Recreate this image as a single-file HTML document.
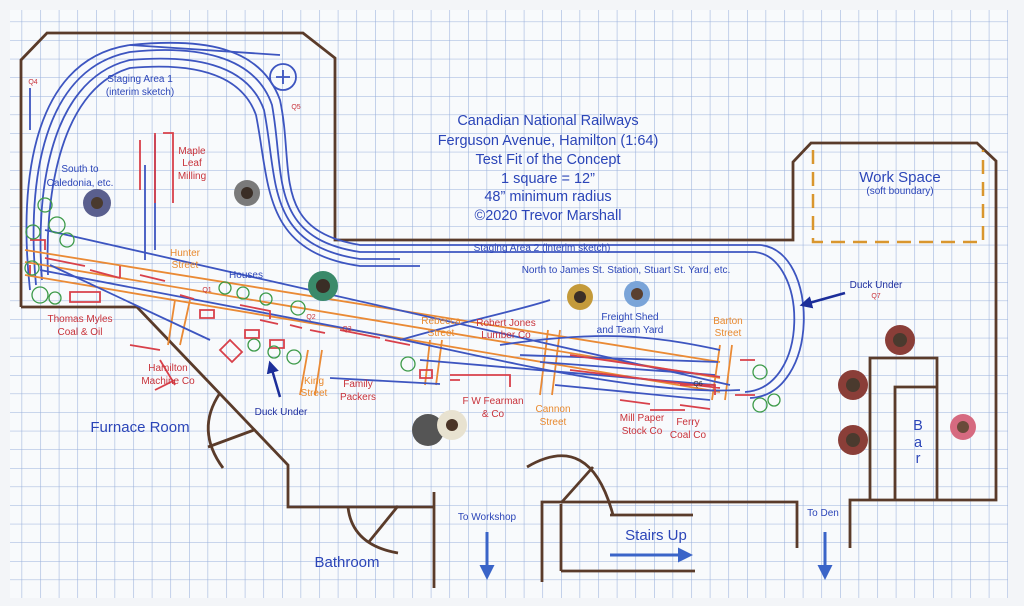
<!DOCTYPE html>
<html><head><meta charset="utf-8"><style>
html,body{margin:0;padding:0;background:#f3f5f8}
svg{display:block}
text{font-family:"Liberation Sans",sans-serif}
.b{fill:#2b45b8}.r{fill:#c8323a}.o{fill:#e8892e}
</style></head><body>
<svg width="1024" height="606" viewBox="0 0 1024 606" xmlns="http://www.w3.org/2000/svg">
<defs>
<pattern id="g" x="3" y="3" width="18.6" height="18.6" patternUnits="userSpaceOnUse">
<path d="M0 0H18.6M0 0V18.6" stroke="#98afdb" stroke-width="1.1" fill="none"/>
</pattern>
<marker id="ab" viewBox="0 0 10 10" refX="8" refY="5" markerWidth="5" markerHeight="5" orient="auto"><path d="M0 0L10 5L0 10z" fill="#3a64c8"/></marker>
<marker id="ad" viewBox="0 0 10 10" refX="8" refY="5" markerWidth="5" markerHeight="5" orient="auto"><path d="M0 0L10 5L0 10z" fill="#1c2e9a"/></marker>
</defs>
<rect width="1024" height="606" fill="#f3f5f8"/>
<rect x="10" y="10" width="998" height="588" fill="#f8fafc"/>
<rect x="10" y="10" width="998" height="588" fill="url(#g)"/>

<!-- walls -->
<g stroke="#5a3b2a" stroke-width="2.8" fill="none">
<path d="M21 307V60L47 33H303L335 58V240H793V162L811 143H977L996 161V500H850V548"/>
<path d="M21 307H137L288 465V507H433"/>
<path d="M434 492V588"/>
<path d="M797 548V502H542V582M561 571V504M610 515H693M561 571H695"/>
<path d="M870 500V358H937V500M895 500V387H937"/>
<path d="M348 507Q352 545 398 553M368 543L398 506"/>
<path d="M220 393Q195 430 223 468M208 447L254 430"/>
<path d="M527 467Q590 430 613 515M561 503L593 467"/>
</g>
<path d="M813 150V242H983V150" stroke="#d9962e" stroke-width="2.5" fill="none" stroke-dasharray="14 8"/>

<!-- staging tracks -->
<g stroke="#3d55c0" stroke-width="1.8" fill="none">
<path d="M30 290C20 200 25 60 130 45C200 38 260 45 280 100C295 170 270 230 360 245H760C820 250 820 395 750 398"/>
<path d="M36 285C28 200 35 70 130 52C195 45 255 55 272 105C285 175 268 238 360 252H755C808 258 810 388 745 392"/>
<path d="M42 280C36 205 45 80 130 60C190 55 247 62 264 110C278 180 265 245 360 259H400"/>
<path d="M48 275C45 210 55 90 130 68C185 63 240 70 256 115C270 185 262 252 360 266H420"/>
<path d="M130 45L280 55M30 130V88"/>
<circle cx="283" cy="77" r="13"/>
<path d="M283 70V84M276 77H290"/>
<path d="M155 135V250M145 165V260"/>
</g>

<!-- main line orange & blue -->
<g stroke="#ea8a35" stroke-width="1.8" fill="none">
<path d="M25 250L720 362M25 262L720 378M25 275L720 392"/>
<path d="M175 300L168 345M190 300L180 345M308 350L300 395M322 350L315 395M430 340L425 385M442 340L436 385M548 330L540 395M560 330L552 395M720 345L712 400M732 345L725 400"/>
</g>
<g stroke="#3d55c0" stroke-width="1.8" fill="none">
<path d="M45 230L730 385M40 270L380 335C500 360 640 395 740 390"/>
<path d="M400 340C470 320 520 310 550 300M500 345C600 330 650 335 720 350M520 355L718 362M540 362L715 375M420 360L715 385M330 378L440 384M50 265L210 340M555 385L710 400"/>
</g>
<g stroke="#d8404a" stroke-width="1.8" fill="none">
<path d="M140 140v50M155 133v70M163 133h10v70M30 240h15v10M45 258l40 8M90 270l30 8M120 278v-12M70 292h30v10h-30zM30 265v10M240 305l30 6v8M340 330l40 8M385 340l25 5M570 355l150 22M570 370l150 18M680 385h35v10M450 375h60v12M460 380h-10M620 400l30 4M680 405l30 4M650 410h35M200 310h14v8h-14zM245 330h14v8h-14zM270 340h14v8h-14zM230 340l12 12-10 10-12-12zM130 345l30 5M160 360l15 25M310 330l15 3M155 390l20 -10M420 370h12v8h-12zM740 360h15M735 395h20"/>
<path d="M140 275l25 6M180 295l14 4M260 320l18 4M290 325l12 3"/>
</g>

<!-- trees -->
<g stroke="#3c9a48" stroke-width="1.3" fill="none">
<circle cx="45" cy="205" r="7"/><circle cx="57" cy="225" r="8"/><circle cx="67" cy="240" r="7"/><circle cx="33" cy="232" r="7"/>
<circle cx="32" cy="268" r="7"/><circle cx="40" cy="295" r="8"/><circle cx="55" cy="298" r="6"/>
<circle cx="225" cy="288" r="6"/><circle cx="243" cy="293" r="6"/><circle cx="266" cy="299" r="6"/><circle cx="298" cy="308" r="7"/>
<circle cx="254" cy="345" r="6"/><circle cx="274" cy="352" r="6"/><circle cx="294" cy="357" r="7"/>
<circle cx="408" cy="364" r="7"/><circle cx="760" cy="372" r="7"/><circle cx="760" cy="405" r="7"/><circle cx="774" cy="400" r="6"/>
</g>

<!-- arrows -->
<g fill="none">
<path d="M280 397L270 363" stroke="#1c2e9a" stroke-width="2.5" marker-end="url(#ad)"/>
<path d="M845 293L802 305" stroke="#1c2e9a" stroke-width="2.5" marker-end="url(#ad)"/>
<path d="M487 532V577" stroke="#3a64c8" stroke-width="3" marker-end="url(#ab)"/>
<path d="M825 532V577" stroke="#3a64c8" stroke-width="3" marker-end="url(#ab)"/>
<path d="M610 555H690" stroke="#3a64c8" stroke-width="3" marker-end="url(#ab)"/>
</g>

<!-- people -->
<g>
<circle cx="97" cy="203" r="14" fill="#5a5f8e"/><circle cx="97" cy="203" r="6" fill="#4a3a2e"/>
<circle cx="247" cy="193" r="13" fill="#7a7a7a"/><circle cx="247" cy="193" r="6" fill="#3a2e26"/>
<circle cx="323" cy="286" r="15" fill="#3a8a6a"/><circle cx="323" cy="286" r="7" fill="#3a2e26"/>
<circle cx="580" cy="297" r="13" fill="#c49a3a"/><circle cx="580" cy="297" r="6" fill="#3a2e26"/>
<circle cx="637" cy="294" r="13" fill="#7aa4d8"/><circle cx="637" cy="294" r="6" fill="#5a4030"/>
<circle cx="428" cy="430" r="16" fill="#555"/><circle cx="452" cy="425" r="15" fill="#e8e2d0"/><circle cx="452" cy="425" r="6" fill="#4a3426"/>
<circle cx="900" cy="340" r="15" fill="#8a3e38"/><circle cx="900" cy="340" r="7" fill="#4a3a2e"/>
<circle cx="853" cy="385" r="15" fill="#8a3e38"/><circle cx="853" cy="385" r="7" fill="#4a3a2e"/>
<circle cx="853" cy="440" r="15" fill="#8a3e38"/><circle cx="853" cy="440" r="7" fill="#4a3a2e"/>
<circle cx="963" cy="427" r="13" fill="#d66a80"/><circle cx="963" cy="427" r="6" fill="#6a4a3a"/>
</g>

<!-- text -->
<g class="b" font-size="14.5" text-anchor="middle">
<text x="548" y="125">Canadian National Railways</text>
<text x="548" y="145">Ferguson Avenue, Hamilton (1:64)</text>
<text x="548" y="164">Test Fit of the Concept</text>
<text x="548" y="183">1 square = 12”</text>
<text x="548" y="201">48” minimum radius</text>
<text x="548" y="220">©2020 Trevor Marshall</text>
<text x="900" y="182" font-size="15">Work Space</text>
<text x="900" y="194" font-size="10">(soft boundary)</text>
<text x="140" y="432" font-size="15">Furnace Room</text>
<text x="347" y="567" font-size="15">Bathroom</text>
<text x="656" y="540" font-size="15">Stairs Up</text>
<text x="918" y="430">B</text><text x="918" y="447">a</text><text x="918" y="463">r</text>
</g>
<g class="b" font-size="10" text-anchor="middle">
<text x="140" y="82">Staging Area 1</text><text x="140" y="95">(interim sketch)</text>
<text x="80" y="172">South to</text><text x="80" y="186">Caledonia, etc.</text>
<text x="246" y="278">Houses</text>
<text x="542" y="251">Staging Area 2 (interim sketch)</text>
<text x="626" y="273">North to James St. Station, Stuart St. Yard, etc.</text>
<text x="630" y="320">Freight Shed</text><text x="630" y="333">and Team Yard</text>
<text x="876" y="288" fill="#2030a0">Duck Under</text>
<text x="281" y="415" fill="#2030a0">Duck Under</text>
<text x="487" y="520">To Workshop</text>
<text x="823" y="516">To Den</text>
</g>
<g class="r" font-size="10" text-anchor="middle">
<text x="192" y="154">Maple</text><text x="192" y="166">Leaf</text><text x="192" y="179">Milling</text>
<text x="80" y="322">Thomas Myles</text><text x="80" y="335">Coal &amp; Oil</text>
<text x="168" y="371">Hamilton</text><text x="168" y="384">Machine Co</text>
<text x="358" y="387">Family</text><text x="358" y="400">Packers</text>
<text x="506" y="326">Robert Jones</text><text x="506" y="338">Lumber Co</text>
<text x="493" y="404">F W Fearman</text><text x="493" y="417">&amp; Co</text>
<text x="642" y="421">Mill Paper</text><text x="642" y="434">Stock Co</text>
<text x="688" y="425">Ferry</text><text x="688" y="438">Coal Co</text>
<text x="33" y="84" font-size="7">Q4</text><text x="296" y="109" font-size="7">Q5</text>
<text x="207" y="292" font-size="7">Q1</text><text x="311" y="319" font-size="7">Q2</text><text x="347" y="331" font-size="7">Q3</text>
<text x="698" y="386" font-size="7" fill="#333">Q6</text><text x="876" y="298" font-size="7">Q7</text>
</g>
<g class="o" font-size="10" text-anchor="middle">
<text x="185" y="256">Hunter</text><text x="185" y="268">Street</text>
<text x="314" y="384">King</text><text x="314" y="396">Street</text>
<text x="441" y="324">Rebecca</text><text x="441" y="336">Street</text>
<text x="553" y="412">Cannon</text><text x="553" y="425">Street</text>
<text x="728" y="324">Barton</text><text x="728" y="336">Street</text>
</g>
</svg>
</body></html>
